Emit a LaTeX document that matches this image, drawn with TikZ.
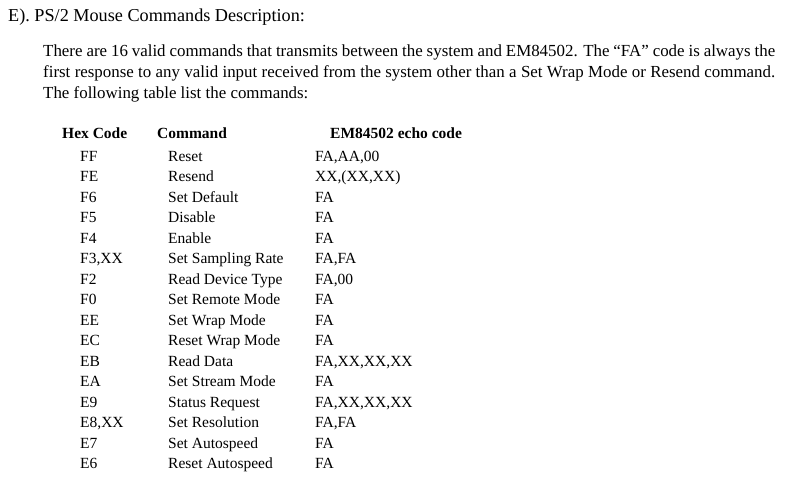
\documentclass[tikz,border=0pt]{standalone}
\usepackage{fontspec}
\setmainfont{Liberation Serif}
\usetikzlibrary{positioning}

\tikzset{
  txt/.style={anchor=base west, inner sep=0pt, font=\fontsize{15.5}{18}\selectfont},
  head/.style={txt, font=\fontsize{15.5}{18}\selectfont\bfseries},
  para/.style={txt, font=\fontsize{16.9}{20}\selectfont}
}
\newcommand{\fullline}[1]{\makebox[732pt][s]{#1}}

\begin{document}
\begin{tikzpicture}[x=1pt,y=-1pt]
    \useasboundingbox (0,0) rectangle (800,480);

    % Title and paragraph
    \node[txt, font=\fontsize{18.2}{20}\selectfont] (title) at (8,21) {E). PS/2 Mouse Commands Description:};
    \node[para] (line1) at (43,56) {\fullline{There are 16 valid commands that transmits between the system and EM84502. The ``FA'' code is always the}};
    \node[para] (line2) at (43,77) {\fullline{first response to any valid input received from the system other than a Set Wrap Mode or Resend command.}};
    \node[para] (line3) at (43,98) {The following table list the commands:};

    % Table header
    \node[head] (hhex) at (62,138) {Hex Code};
    \node[head] (hcmd) at (157,138) {Command};
    \node[head] (hecho) at (330,138) {EM84502 echo code};

    % Table rows
    \foreach \hex/\cmd/\echo [count=\i from 0] in {
        FF/Reset/{FA,AA,00},
        FE/Resend/{XX,(XX,XX)},
        F6/Set Default/FA,
        F5/Disable/FA,
        F4/Enable/FA,
        {F3,XX}/Set Sampling Rate/{FA,FA},
        F2/Read Device Type/{FA,00},
        F0/Set Remote Mode/FA,
        EE/Set Wrap Mode/FA,
        EC/Reset Wrap Mode/FA,
        EB/Read Data/{FA,XX,XX,XX},
        EA/Set Stream Mode/FA,
        E9/Status Request/{FA,XX,XX,XX},
        {E8,XX}/Set Resolution/{FA,FA},
        E7/Set Autospeed/FA,
        E6/Reset Autospeed/FA} {
        \node[txt] (hex\i) at (80,161+20.5*\i) {\hex};
        \node[txt] (cmd\i) at (168,161+20.5*\i) {\cmd};
        \node[txt] (echo\i) at (315,161+20.5*\i) {\echo};
    }

\end{tikzpicture}
\end{document}
